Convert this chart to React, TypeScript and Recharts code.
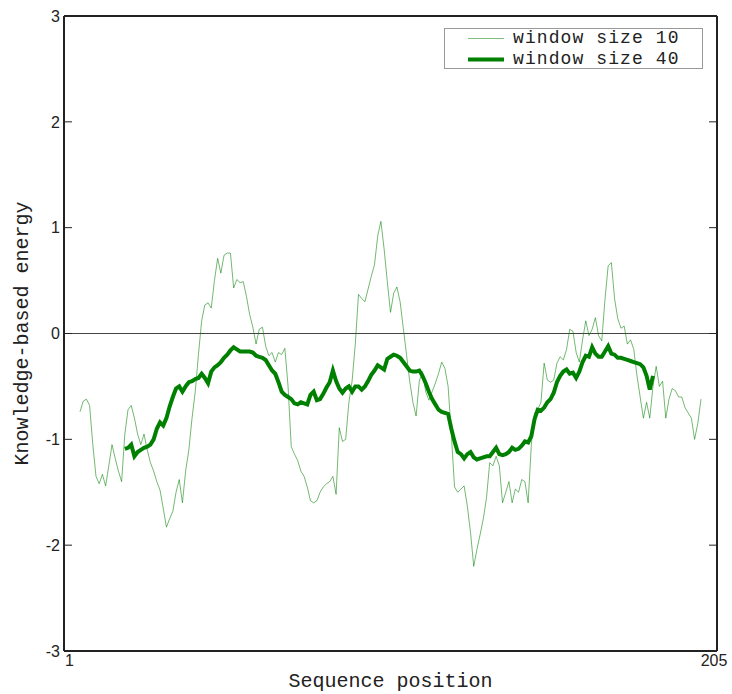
import React from "react";
import { LineChart, Line, XAxis, YAxis, ReferenceLine, Legend, Label } from "recharts";

// window size 10 profile, positions 6..200
const window10Start = 6;
const window10Values = [
  -0.74, -0.64, -0.62, -0.68, -1.05, -1.35, -1.42, -1.33, -1.44, -1.25,
  -1.05, -1.18, -1.3, -1.4, -0.95, -0.72, -0.68, -0.8, -0.95, -1.05,
  -0.95, -1.1, -1.22, -1.3, -1.4, -1.48, -1.65, -1.83, -1.75, -1.68,
  -1.5, -1.38, -1.6, -1.3, -1.1, -0.8, -0.55, -0.2, 0.12, 0.27,
  0.29, 0.24, 0.5, 0.71, 0.57, 0.74, 0.76, 0.76, 0.43, 0.51,
  0.48, 0.49, 0.35, 0.18, 0.06, -0.1, 0.04, 0.06, -0.12, -0.21,
  -0.18, -0.27, -0.18, -0.2, -0.14, -0.5, -1.07, -1.14, -1.2, -1.3,
  -1.35, -1.45, -1.58, -1.6, -1.58, -1.5, -1.45, -1.42, -1.4, -1.35,
  -1.52, -0.89, -1.02, -1.0, -0.65, -0.45, -0.1, 0.37, 0.33, 0.3,
  0.42, 0.54, 0.65, 0.92, 1.06, 0.8, 0.49, 0.2, 0.38, 0.44,
  0.3, 0.05, -0.2, -0.45, -0.65, -0.78, -0.45, -0.36, -0.55, -0.63,
  -0.55, -0.47, -0.38, -0.27, -0.33, -0.5, -0.95, -1.45, -1.5, -1.47,
  -1.44, -1.63, -1.88, -2.2, -2.04, -1.9, -1.75, -1.55, -1.22, -1.25,
  -1.16, -1.25, -1.6, -1.5, -1.4, -1.6, -1.47, -1.5, -1.38, -1.4,
  -1.6, -1.05, -0.75, -0.72, -0.65, -0.28, -0.44, -0.46, -0.44, -0.28,
  -0.22, -0.25, -0.15, 0.04, 0.02, -0.18, -0.27, -0.06, 0.12, -0.02,
  0.04, 0.15, -0.02, -0.07, 0.32, 0.64, 0.67, 0.33, 0.14, 0.05,
  0.07, -0.1, -0.06, -0.15, -0.4, -0.6, -0.8, -0.65, -0.8, -0.5,
  -0.31, -0.5, -0.45, -0.8, -0.62, -0.52, -0.54, -0.6, -0.6, -0.7,
  -0.75, -0.8, -1.0, -0.85, -0.62,
];

// window size 40 profile, positions 20..185
const window40Start = 20;
const window40Values = [
  -1.09, -1.08, -1.05, -1.16, -1.12, -1.1, -1.08, -1.07, -1.05, -1.0,
  -0.9, -0.84, -0.87, -0.8, -0.69, -0.6, -0.52, -0.5, -0.55, -0.5,
  -0.46, -0.45, -0.43, -0.42, -0.38, -0.42, -0.47, -0.36, -0.32, -0.3,
  -0.27, -0.23, -0.2, -0.16, -0.13, -0.15, -0.17, -0.17, -0.17, -0.17,
  -0.18, -0.21, -0.22, -0.23, -0.25, -0.3, -0.35, -0.38, -0.46, -0.55,
  -0.58, -0.6, -0.62, -0.66, -0.67, -0.65, -0.66, -0.67, -0.58, -0.55,
  -0.63, -0.62, -0.57, -0.51, -0.46, -0.35, -0.45, -0.52, -0.56, -0.52,
  -0.5, -0.55, -0.5, -0.5, -0.53, -0.5, -0.45, -0.39, -0.35, -0.3,
  -0.32, -0.34, -0.24, -0.22, -0.2, -0.21, -0.23, -0.27, -0.31, -0.35,
  -0.36, -0.36, -0.35, -0.4, -0.47, -0.55, -0.62, -0.67, -0.72, -0.74,
  -0.75, -0.76, -0.9, -1.02, -1.12, -1.14, -1.18, -1.14, -1.12, -1.17,
  -1.19, -1.18, -1.17, -1.16, -1.16, -1.12, -1.08, -1.14, -1.15, -1.14,
  -1.12, -1.08, -1.1, -1.09, -1.06, -1.02, -1.03, -0.97, -0.81, -0.72,
  -0.73, -0.7, -0.65, -0.62, -0.56, -0.46, -0.4, -0.36, -0.34, -0.38,
  -0.37, -0.42, -0.36, -0.27, -0.21, -0.22, -0.13, -0.19, -0.22, -0.22,
  -0.17, -0.12, -0.19, -0.2, -0.23, -0.23, -0.24, -0.25, -0.26, -0.27,
  -0.28, -0.29, -0.32, -0.4, -0.53, -0.4,
];

const xDomain = [1, 205];
const xTicks = [1, 205];
const yDomain = [-3, 3];
const yTicks = [-3, -2, -1, 0, 1, 2, 3];
const seriesNames = ["window size 10", "window size 40"];
const xLabel = "Sequence position";
const yLabel = "Knowledge-based energy";

const data10 = window10Values.map((v, i) => ({ pos: window10Start + i, value: v }));
const data40 = window40Values.map((v, i) => ({ pos: window40Start + i, value: v }));

const MONO = "'Courier New', 'Liberation Mono', monospace";
const SANS = "'Liberation Sans', Arial, sans-serif";
const TICK_LEN = 8;
const GREEN = "#008000";
const FRAME = "#222";

const LeftTick = (props: any) => {
  const { x, y, payload } = props;
  const ax = x + 4;
  return (
    <g>
      {payload.value > -3 && payload.value < 3 && (
        <line x1={ax} x2={ax + TICK_LEN} y1={y} y2={y} stroke={FRAME} strokeWidth={1} />
      )}
      <text x={x} y={y} dy="0.36em" textAnchor="end" fontFamily={SANS} fontSize={16} fill="#222">
        {payload.value}
      </text>
    </g>
  );
};

const RightTick = (props: any) => {
  const { x, y, payload } = props;
  if (payload.value <= -3 || payload.value >= 3) return <g />;
  return <line x1={x} x2={x - TICK_LEN} y1={y} y2={y} stroke={FRAME} strokeWidth={1} />;
};

const BottomTick = (props: any) => {
  const { x, y, payload, index } = props;
  const ay = y - 3;
  return (
    <g>
      <line x1={x} x2={x} y1={ay} y2={ay - TICK_LEN} stroke={FRAME} strokeWidth={1} />
      <text
        x={index === 0 ? x + 1 : x - 3}
        y={y}
        dy="0.75em"
        textAnchor={index === 0 ? "start" : "middle"}
        fontFamily={SANS}
        fontSize={16}
        fill="#222"
      >
        {payload.value}
      </text>
    </g>
  );
};

const TopTick = (props: any) => {
  const { x, y } = props;
  return <line x1={x} x2={x} y1={y} y2={y + TICK_LEN} stroke={FRAME} strokeWidth={1} />;
};

const ROW_GAP = 20.5;

const renderLegend = (props: any) => {
  const payload = props.payload || [];
  return (
    <div
      style={{
        position: "relative",
        width: 257,
        height: 39,
        border: "1px solid #999",
        background: "#fff",
        boxSizing: "content-box",
      }}
    >
      {payload.map((entry: any, i: number) => (
        <div
          key={i}
          style={{ position: "absolute", left: 0, top: -1 + i * ROW_GAP, height: 20, width: 257 }}
        >
          <svg width={40} height={20} style={{ position: "absolute", left: 22, top: 0 }}>
            <line
              x1={1}
              x2={37}
              y1={10.5}
              y2={10.5}
              stroke={GREEN}
              strokeOpacity={i === 0 ? 0.5 : 1}
              strokeWidth={i === 0 ? 1 : 4}
            />
          </svg>
          <span
            style={{
              position: "absolute",
              left: 68,
              top: 0,
              fontFamily: MONO,
              fontSize: 18,
              letterSpacing: "1.1px",
              lineHeight: "20px",
              color: "#222",
              whiteSpace: "pre",
            }}
          >
            {entry.value}
          </span>
        </div>
      ))}
    </div>
  );
};

export default function App() {
  return (
    <div style={{ position: "absolute", left: 0, top: 0, background: "#fff" }}>
      <LineChart width={732} height={694} margin={{ top: 15, right: 14, bottom: 0, left: 0 }}>
        <XAxis
          dataKey="pos"
          type="number"
          domain={xDomain}
          ticks={xTicks}
          allowDataOverflow
          height={43}
          tickSize={0}
          tickMargin={3}
          tick={<BottomTick />}
          axisLine={{ stroke: FRAME, strokeWidth: 2 }}
          tickLine={false}
        >
          <Label
            content={(p: any) => {
              const vb = p.viewBox;
              return (
                <text
                  x={vb.x + vb.width / 2}
                  y={687}
                  textAnchor="middle"
                  fontFamily={MONO}
                  fontSize={20}
                  fill="#222"
                >
                  {xLabel}
                </text>
              );
            }}
          />
        </XAxis>
        <XAxis
          xAxisId="top"
          orientation="top"
          dataKey="pos"
          type="number"
          domain={xDomain}
          ticks={xTicks}
          allowDataOverflow
          height={1}
          tickSize={0}
          tickMargin={0}
          tick={<TopTick />}
          axisLine={{ stroke: FRAME, strokeWidth: 2 }}
          tickLine={false}
        />
        <YAxis
          type="number"
          domain={yDomain}
          ticks={yTicks}
          allowDataOverflow
          width={64}
          tickSize={0}
          tickMargin={4}
          tick={<LeftTick />}
          axisLine={{ stroke: FRAME, strokeWidth: 2 }}
          tickLine={false}
        >
          <Label
            content={(p: any) => {
              const vb = p.viewBox;
              const cy = vb.y + vb.height / 2;
              return (
                <text
                  x={28}
                  y={cy}
                  transform={`rotate(-90, 28, ${cy})`}
                  textAnchor="middle"
                  fontFamily={MONO}
                  fontSize={20}
                  fill="#222"
                >
                  {yLabel}
                </text>
              );
            }}
          />
        </YAxis>
        <YAxis
          yAxisId="right"
          orientation="right"
          type="number"
          domain={yDomain}
          ticks={yTicks}
          allowDataOverflow
          width={1}
          tickSize={0}
          tickMargin={0}
          tick={<RightTick />}
          axisLine={{ stroke: FRAME, strokeWidth: 2 }}
          tickLine={false}
        />
        <ReferenceLine y={0} stroke="#444" strokeWidth={1} />
        <ReferenceLine y={3} stroke={FRAME} strokeWidth={2} ifOverflow="visible" />
        <ReferenceLine x={205} stroke={FRAME} strokeWidth={2} ifOverflow="visible" />
        <Legend
          layout="vertical"
          align="center"
          verticalAlign="middle"
          content={renderLegend}
          wrapperStyle={{ position: "absolute", left: 444, top: 28, width: 259, height: 41 }}
        />
        <Line
          data={data10}
          dataKey="value"
          name={seriesNames[0]}
          type="linear"
          stroke={GREEN}
          strokeOpacity={0.55}
          strokeWidth={1}
          dot={false}
          activeDot={false}
          isAnimationActive={false}
        />
        <Line
          data={data40}
          dataKey="value"
          name={seriesNames[1]}
          type="linear"
          stroke={GREEN}
          strokeWidth={4}
          dot={false}
          activeDot={false}
          isAnimationActive={false}
        />
      </LineChart>
    </div>
  );
}
